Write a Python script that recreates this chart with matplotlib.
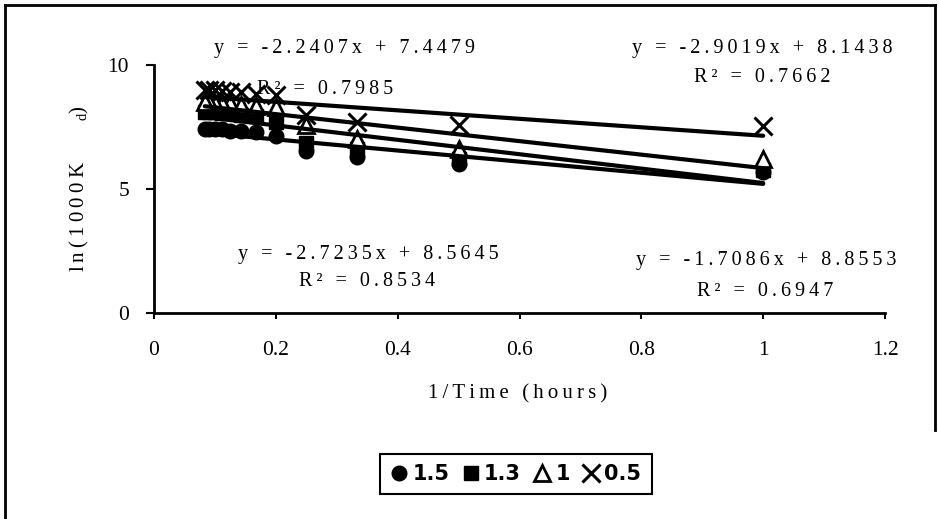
import matplotlib
matplotlib.use("Agg")
import matplotlib.pyplot as plt
from matplotlib.lines import Line2D
import numpy as np

plt.rcParams['font.family'] = ['Liberation Serif', 'DejaVu Serif']
plt.rcParams['mathtext.fontset'] = 'custom'
plt.rcParams['mathtext.rm'] = 'Liberation Serif'
plt.rcParams['mathtext.it'] = 'Liberation Serif'

# sampling times 1..12 h, plotted as 1/T
hours = np.arange(1, 13)
inv_time = 1.0 / hours

ln_kd_15 = [5.70, 6.00, 6.30, 6.55, 7.15, 7.30, 7.35, 7.35, 7.40, 7.40, 7.40, 7.40]
ln_kd_13 = [5.75, 6.20, 6.60, 6.85, 7.70, 7.95, 8.00, 8.05, 8.05, 8.10, 8.10, 8.10]
ln_kd_10 = [6.20, 6.60, 7.00, 7.60, 8.30, 8.35, 8.40, 8.45, 8.45, 8.45, 8.50, 8.50]
ln_kd_05 = [7.55, 7.60, 7.70, 8.00, 8.80, 8.85, 8.90, 8.90, 8.95, 9.00, 9.00, 9.00]

series_labels = ['1.5', '1.3', '1', '0.5']

# linear trend lines (slope, intercept, R^2)
slopes = [-2.2407, -2.9019, -2.7235, -1.7086]
intercepts = [7.4479, 8.1438, 8.5645, 8.8553]
r_squared = [0.7985, 0.7662, 0.8534, 0.6947]

W, H = 939, 519
fig = plt.figure(figsize=(W / 100, H / 100), dpi=100)
ax = fig.add_axes([154 / W, 1 - 313 / H, (885 - 154) / W, (313 - 65) / H])


def spaced(s):
    return '\u2009'.join(s)


styles = [
    dict(marker='o', color='black', markersize=10.5, linestyle='none'),
    dict(marker='s', color='black', markersize=9.5, linestyle='none'),
    dict(marker='^', markerfacecolor='white', markeredgecolor='black',
         markeredgewidth=2, markersize=11, linestyle='none'),
    dict(marker='x', color='black', markersize=12.5, markeredgewidth=2.2,
         linestyle='none'),
]
all_series = [ln_kd_15, ln_kd_13, ln_kd_10, ln_kd_05]

handles = []
for vals, st, lab in zip(all_series, styles, series_labels):
    h, = ax.plot(inv_time, vals, label=lab, zorder=2, **st)
    handles.append(h)

xfit = np.array([inv_time.min(), inv_time.max()])
for m, b in zip(slopes, intercepts):
    ax.plot(xfit, m * xfit + b, color='black', linewidth=3,
            solid_capstyle='round', zorder=3)

ax.set_xlim(0, 1.2)
ax.set_ylim(0, 10)
ax.set_xticks([0, 0.2, 0.4, 0.6, 0.8, 1, 1.2])
ax.set_xticklabels(['0', '0.2', '0.4', '0.6', '0.8', '1', '1.2'])
ax.set_yticks([0, 5, 10])
for s in ['top', 'right']:
    ax.spines[s].set_visible(False)
for s in ['left', 'bottom']:
    ax.spines[s].set_linewidth(2)
ax.tick_params(axis='y', direction='out', length=6, width=1.5, pad=12,
               labelsize=15.5)
ax.tick_params(axis='x', direction='out', length=4.5, width=1.5, pad=16,
               labelsize=15.5)

ax.set_ylabel(spaced('ln(1000K') + '\u2003\u2003$_{d}$)', fontsize=15,
              labelpad=12)
fig.text(518 / W, 1 - 394 / H, spaced('1/Time (hours)'), fontsize=15,
         ha='center', va='center')

# trend-line equations
eq_pos = [((345, 48), (325, 90)), ((762, 48), (762, 77)),
          ((368, 254), (367, 282)), ((766, 261), (765, 291))]
for (m, b, r2), ((ex, ey), (rx, ry)) in zip(zip(slopes, intercepts, r_squared), eq_pos):
    eq = 'y = {:.4f}x + {:.4f}'.format(m, b)
    fig.text(ex / W, 1 - ey / H, spaced(eq), fontsize=14.5, ha='center',
             va='center')
    fig.text(rx / W, 1 - ry / H, spaced('R² = {:.4f}'.format(r2)),
             fontsize=14.5, ha='center', va='center')

leg = fig.legend(handles=handles, labels=series_labels, loc='center',
                 bbox_to_anchor=(516 / W, 1 - 474 / H), ncol=4,
                 handlelength=0.8, handletextpad=0.25, columnspacing=0.6,
                 borderpad=0.5, fancybox=False, framealpha=1,
                 prop=dict(family='DejaVu Sans', weight='bold', size=15))
leg.get_frame().set_edgecolor('black')
leg.get_frame().set_linewidth(1.5)

# chart border
for xs, ys in [((5, 935), (5, 5)), ((5, 5), (5, 519)), ((935, 935), (5, 430))]:
    fig.add_artist(Line2D([x / W for x in xs], [1 - y / H for y in ys],
                          color='black', linewidth=2))

fig.savefig('out.png', dpi=100)
